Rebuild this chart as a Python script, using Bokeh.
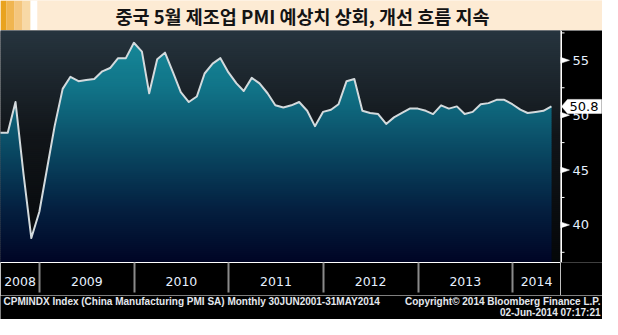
import numpy as np
import pandas as pd
from bokeh.plotting import figure
from bokeh.models import Range1d, FixedTicker, DatetimeTickFormatter
from bokeh.layouts import column, row
from bokeh.embed import file_html
from bokeh.resources import INLINE
from bokeh.core.properties import value

# ---------------- data ----------------
TITLE = "중국 5월 제조업 PMI 예상치 상회, 개선 흐름 지속"
MONTHS = [
    "2008-07", "2008-08", "2008-09", "2008-10", "2008-11", "2008-12",
    "2009-01", "2009-02", "2009-03", "2009-04", "2009-05", "2009-06",
    "2009-07", "2009-08", "2009-09", "2009-10", "2009-11", "2009-12",
    "2010-01", "2010-02", "2010-03", "2010-04", "2010-05", "2010-06",
    "2010-07", "2010-08", "2010-09", "2010-10", "2010-11", "2010-12",
    "2011-01", "2011-02", "2011-03", "2011-04", "2011-05", "2011-06",
    "2011-07", "2011-08", "2011-09", "2011-10", "2011-11", "2011-12",
    "2012-01", "2012-02", "2012-03", "2012-04", "2012-05", "2012-06",
    "2012-07", "2012-08", "2012-09", "2012-10", "2012-11", "2012-12",
    "2013-01", "2013-02", "2013-03", "2013-04", "2013-05", "2013-06",
    "2013-07", "2013-08", "2013-09", "2013-10", "2013-11", "2013-12",
    "2014-01", "2014-02", "2014-03", "2014-04", "2014-05",
]
PMI = [
    48.4, 48.4, 51.2, 44.6, 38.8, 41.2,
    45.3, 49.0, 52.4, 53.5, 53.1, 53.2, 53.3, 54.0, 54.3, 55.2, 55.2, 56.6,
    55.8, 52.0, 55.1, 55.7, 53.9, 52.1, 51.2, 51.7, 53.8, 54.7, 55.2, 53.9,
    52.9, 52.2, 53.4, 52.9, 52.0, 50.9, 50.7, 50.9, 51.2, 50.4, 49.0, 50.3,
    50.5, 51.0, 53.1, 53.3, 50.4, 50.2, 50.1, 49.2, 49.8, 50.2, 50.6, 50.6,
    50.4, 50.1, 50.9, 50.6, 50.8, 50.1, 50.3, 51.0, 51.1, 51.4, 51.4, 51.0,
    50.5, 50.2, 50.3, 50.4, 50.8,
]
YEARS = [2008, 2009, 2010, 2011, 2012, 2013, 2014]
Y_TICKS = [40, 45, 50, 55]
Y_TICK_LABELS = ["40", "45", "50", "55"]
Y_MINOR_TICKS = [37.5, 42.5, 47.5, 52.5, 57.5]
FOOT_LEFT = "CPMINDX Index (China Manufacturing PMI SA)  Monthly 30JUN2001-31MAY2014"
FOOT_RIGHT_1 = "Copyright\u00a9 2014 Bloomberg Finance L.P."
FOOT_RIGHT_2 = "02-Jun-2014 07:17:21"

# ---------------- layout / style ----------------
X_START, X_END = "2008-08-03", "2014-07-05"
Y_MIN, Y_MAX = 36.57, 57.72
W = 602
PLOT_W = 560
AXIS_W = W - PLOT_W
TITLE_H = 30
FRAME_H = 232
XAXIS_H = 33
MAIN_H = FRAME_H + XAXIS_H
FOOT_H = 319 - TITLE_H - MAIN_H
STRIPE_EDGES = [0, 6, 14, 22, 30, 37, W]
STRIPE_COLORS = ["#e9a31e", "#f0b550", "#f4c67e", "#f8d9a6", "#ffffff", "#fdebd4"]
BG_STOPS = [(0.0, (38, 52, 62)), (0.45, (17, 21, 25)), (1.0, (5, 7, 9))]
AREA_STOPS = [(0.0, (22, 140, 156)), (0.25, (17, 115, 135)), (0.5, (10, 74, 100)),
              (0.75, (4, 34, 66)), (1.0, (1, 4, 36))]
N_BANDS = 116
TXT = "#e6f0ff"


def ms(ts):
    return pd.Timestamp(ts).timestamp() * 1000.0


def grad(stops, f):
    for (f0, c0), (f1, c1) in zip(stops[:-1], stops[1:]):
        if f <= f1:
            t = (f - f0) / (f1 - f0) if f1 > f0 else 0.0
            c = [round(a + (b - a) * t) for a, b in zip(c0, c1)]
            return "#%02x%02x%02x" % tuple(c)
    return "#%02x%02x%02x" % stops[-1][1]


dates = pd.to_datetime(MONTHS) + pd.offsets.MonthEnd(0)
xs = np.array([d.timestamp() * 1000.0 for d in dates])
ys = np.array(PMI, dtype=float)
x_lo, x_hi = ms(X_START), ms(X_END)
y_range = Range1d(Y_MIN, Y_MAX)
PX = (Y_MAX - Y_MIN) / FRAME_H  # one screen pixel in y units

# ---------------- title band ----------------
t = figure(width=W, height=TITLE_H, x_range=Range1d(0, W), y_range=Range1d(0, 1),
           output_backend="svg", toolbar_location=None, min_border=0,
           x_axis_type=None, y_axis_type=None, outline_line_color=None,
           background_fill_color="#fdebd4", border_fill_color="#fdebd4")
t.grid.visible = False
t.quad(left=STRIPE_EDGES[:-1], right=STRIPE_EDGES[1:], bottom=0, top=1,
       fill_color=STRIPE_COLORS, line_color=None)
t.text(x=[302], y=[0.5], text=[TITLE], text_font=value("Noto Sans CJK KR"),
       text_font_size="18.5px", text_font_style="bold", text_align="center",
       text_baseline="middle", text_color="#141414")

# ---------------- main chart ----------------
p = figure(width=PLOT_W, height=MAIN_H, x_axis_type="datetime", y_axis_location=None,
           x_range=Range1d(x_lo, x_hi), y_range=y_range,
           output_backend="svg", toolbar_location=None,
           min_border_left=0, min_border_right=0, min_border_top=0,
           min_border_bottom=XAXIS_H,
           border_fill_color="black", background_fill_color="#111518",
           outline_line_color=None)
p.grid.visible = False

edges = np.linspace(Y_MIN, Y_MAX, N_BANDS + 1)
band_h = edges[1] - edges[0]
fr = [(Y_MAX - 0.5 * (a + b)) / (Y_MAX - Y_MIN) for a, b in zip(edges[:-1], edges[1:])]

# background gradient
p.quad(left=x_lo, right=x_hi, bottom=edges[:-1] - 0.6 * band_h, top=edges[1:],
       fill_color=[grad(BG_STOPS, f) for f in fr], line_color=None)

# area gradient (horizontal bands clipped to the curve)
px, py = [], []
for b0, b1 in zip(edges[:-1], edges[1:]):
    lo = b0 - 0.6 * band_h
    pts = list(xs)
    for lvl in (lo, b1):
        for i in range(len(xs) - 1):
            y0, y1 = ys[i], ys[i + 1]
            if (y0 - lvl) * (y1 - lvl) < 0:
                tt = (lvl - y0) / (y1 - y0)
                pts.append(xs[i] + tt * (xs[i + 1] - xs[i]))
    pts = np.sort(np.array(pts))
    yy = np.clip(np.interp(pts, xs, ys), lo, b1)
    px.append(list(pts) + [pts[-1], pts[0]])
    py.append(list(yy) + [lo, lo])
p.patches(xs=px, ys=py, fill_color=[grad(AREA_STOPS, f) for f in fr], line_color=None)

p.line(xs, ys, line_color="#d3dadd", line_width=2, line_join="round")

# x axis (years)
year_starts = [ms(f"{y}-01-01") for y in YEARS if x_lo < ms(f"{y}-01-01") < x_hi]
label_pos = []
for y in YEARS:
    a = max(ms(f"{y}-01-01"), x_lo)
    b = min(ms(f"{y + 1}-01-01"), x_hi)
    label_pos.append(0.5 * (a + b))
xax = p.xaxis[0]
xax.ticker = FixedTicker(ticks=label_pos, minor_ticks=year_starts)
xax.formatter = DatetimeTickFormatter(
    microseconds="%Y", milliseconds="%Y", seconds="%Y", minsec="%Y", minutes="%Y",
    hourmin="%Y", hours="%Y", days="%Y", months="%Y", years="%Y")
xax.axis_line_color = "white"
xax.axis_line_width = 1
xax.major_tick_line_color = None
xax.major_tick_out = 0
xax.major_tick_in = 0
xax.minor_tick_line_color = "#8a8a8a"
xax.minor_tick_line_width = 2
xax.minor_tick_out = 30
xax.minor_tick_in = 0
xax.major_label_text_color = TXT
xax.major_label_text_font = "DejaVu Sans"
xax.major_label_text_font_size = "12.5px"
xax.major_label_standoff = -16

# ---------------- right value axis ----------------
r = figure(width=AXIS_W, height=MAIN_H, x_range=Range1d(0, AXIS_W), y_range=y_range,
           output_backend="svg", toolbar_location=None,
           min_border_left=0, min_border_right=0, min_border_top=0,
           min_border_bottom=XAXIS_H, x_axis_type=None, y_axis_type=None,
           outline_line_color=None, background_fill_color="black",
           border_fill_color="black")
r.grid.visible = False
r.segment(x0=0.75, y0=Y_MIN, x1=0.75, y1=Y_MAX, line_color="white", line_width=1.5)
r.segment(x0=0, y0=Y_MINOR_TICKS, x1=4, y1=Y_MINOR_TICKS, line_color="white", line_width=1)
r.patches(xs=[[0, 9, 0] for _ in Y_TICKS],
          ys=[[v - 3 * PX, v, v + 3 * PX] for v in Y_TICKS],
          fill_color="white", line_color="white", line_width=0.5)
r.text(x=12, y=Y_TICKS, text=Y_TICK_LABELS, text_font=value("DejaVu Sans"),
       text_font_size="13px", text_color=TXT, text_baseline="middle", text_align="left")
last = PMI[-1]
r.patch(x=[1, 7, 41, 41, 7], y=[last, last + 7 * PX, last + 7 * PX, last - 7 * PX, last - 7 * PX],
        fill_color="white", line_color="white", line_width=0.5)
r.text(x=[9], y=[last], text=[f"{last:.1f}"], text_font=value("DejaVu Sans"),
       text_font_size="13px", text_color="black", text_baseline="middle", text_align="left")

# ---------------- footer ----------------
f = figure(width=W, height=FOOT_H, x_range=Range1d(0, W), y_range=Range1d(0, FOOT_H),
           output_backend="svg", toolbar_location=None, min_border=0,
           x_axis_type=None, y_axis_type=None, outline_line_color=None,
           background_fill_color="black", border_fill_color="black")
f.grid.visible = False
foot = dict(text_font=value("Liberation Sans"), text_font_size="10px",
            text_font_style="bold", text_color="#e4e8ee", text_baseline="middle")
f.text(x=[3], y=[FOOT_H - 6], text=[FOOT_LEFT], text_align="left", **foot)
f.text(x=[W - 2], y=[FOOT_H - 6], text=[FOOT_RIGHT_1], text_align="right", **foot)
f.text(x=[W - 2], y=[FOOT_H - 16.5], text=[FOOT_RIGHT_2], text_align="right", **foot)

layout = column(t, row(p, r, spacing=0), f, spacing=0)
open("out.html", "w").write(file_html(layout, INLINE))
